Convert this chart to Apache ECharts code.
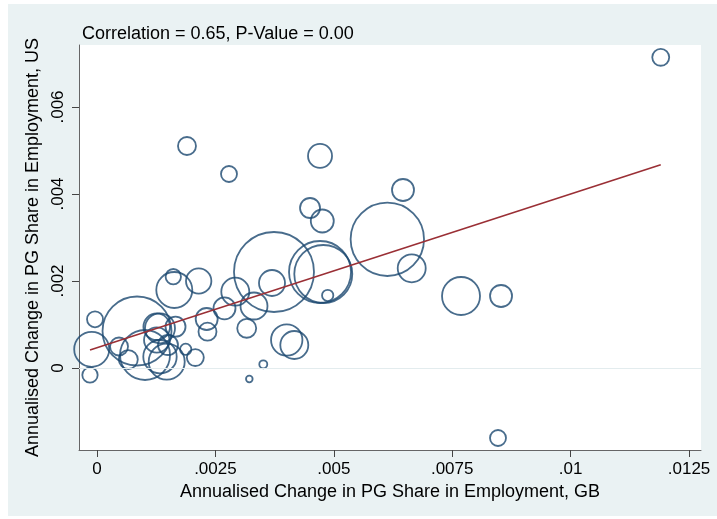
<!DOCTYPE html>
<html>
<head>
<meta charset="utf-8">
<script src="https://cdn.jsdelivr.net/npm/echarts@6/dist/echarts.min.js"></script>
<style>
html,body{margin:0;padding:0;background:#ffffff;width:717px;height:519px;overflow:hidden;}
#bg{position:absolute;left:8px;top:4px;width:709px;height:512px;background:#eaf2f3;}
#chart{position:absolute;left:0;top:0;width:717px;height:519px;}
</style>
</head>
<body>
<div id="bg"></div>
<div id="chart"></div>
<script>
// Annualised change in PG share in employment (GB on x, US on y), bubble weight
const gbChange = [
  0.011903, 0.001900, 0.002787, 0.004709, 0.004498, 0.004757, 0.006461, 0.006130,
  0.003737, 0.004709, 0.004778, 0.004871, 0.006645, 0.007686, 0.008531, 0.008467,
  0.003695, 0.002147, 0.001632, 0.001611, 0.002920, 0.003315, 0.002692, 0.002316,
  0.002333, 0.003161, 0.004006, 0.004166, 0.003511, 0.003216, 0.001658, 0.001873,
  0.002076, -0.000112, -0.000042, -0.000148, 0.000845, 0.000465, 0.000661, 0.001014,
  0.001261, 0.001330, 0.001261, 0.001330, 0.001472, 0.001499
];
const usChange = [
  0.007143, 0.005103, 0.004460, 0.004874, 0.003678, 0.003379, 0.004092, 0.002959,
  0.002207, 0.002207, 0.002161, 0.001667, 0.002292, 0.001655, 0.001655, -0.001609,
  0.001954, 0.002000, 0.001793, 0.002099, 0.001754, 0.001425, 0.001372, 0.001126,
  0.000834, 0.000913, 0.000644, 0.000529, 0.000085, -0.000253, 0.000949, 0.000430,
  0.000241, 0.000430, 0.001120, -0.000161, 0.000851, 0.000494, 0.000195, 0.000299,
  0.000949, 0.000913, 0.000644, 0.000260, 0.000145, 0.000529
];
const weights = [
  0.72, 0.81, 0.64, 1.44, 1.00, 1.32, 1.21, 13.47,
  16.00, 9.61, 8.41, 0.32, 1.96, 3.61, 1.21, 0.64,
  1.69, 1.61, 3.24, 0.59, 1.96, 1.82, 1.21, 1.21,
  0.81, 0.90, 2.46, 1.96, 0.16, 0.11, 1.00, 0.32,
  0.72, 3.06, 0.64, 0.59, 11.90, 0.81, 0.90, 6.25,
  1.77, 2.25, 1.61, 2.79, 3.24, 1.00
];
// fitted line
const fitIntercept = 0.000466;
const fitSlope = 0.3534;

const xTicks = [0, 0.0025, 0.005, 0.0075, 0.01, 0.0125];
const xTickLabels = ['0', '.0025', '.005', '.0075', '.01', '.0125'];
const yTicks = [0, 0.002, 0.004, 0.006];
const yTickLabels = ['0', '.002', '.004', '.006'];

const titleText = 'Correlation = 0.65, P-Value = 0.00';
const xTitle = 'Annualised Change in PG Share in Employment, GB';
const yTitle = 'Annualised Change in PG Share in Employment, US';

function labelFor(ticks, labels) {
  return function (v) {
    let best = 0, bd = Infinity;
    ticks.forEach((t, i) => { const d = Math.abs(t - v); if (d < bd) { bd = d; best = i; } });
    return labels[best];
  };
}

const points = gbChange.map((x, i) => [x, usChange[i], weights[i]]);
const xMinData = Math.min(...gbChange);
const xMaxData = Math.max(...gbChange);
const fitLine = [
  [xMinData, fitIntercept + fitSlope * xMinData],
  [xMaxData, fitIntercept + fitSlope * xMaxData]
];

const FONT = 'Liberation Sans, Arial, sans-serif';
const chart = echarts.init(document.getElementById('chart'), null, { renderer: 'canvas' });
chart.setOption({
  backgroundColor: 'transparent',
  animation: false,
  title: {
    text: titleText,
    left: 77, top: 20,
    textStyle: { fontFamily: FONT, fontSize: 18, fontWeight: 'normal', color: '#000' }
  },
  grid: {
    left: 79, right: 16, top: 45, bottom: 69,
    show: true, backgroundColor: '#ffffff', borderWidth: 0
  },
  xAxis: {
    type: 'value',
    min: -0.00038, max: 0.012753,
    name: xTitle, nameLocation: 'middle', nameGap: 27,
    nameTextStyle: { fontFamily: FONT, fontSize: 18, color: '#000' },
    axisLine: { show: true, onZero: false, lineStyle: { color: '#666', width: 1 } },
    axisTick: { show: true, length: 7, customValues: xTicks, lineStyle: { color: '#444' } },
    axisLabel: {
      customValues: xTicks, formatter: labelFor(xTicks, xTickLabels),
      margin: 11, fontFamily: FONT, fontSize: 17, color: '#000'
    },
    splitLine: { show: false }
  },
  yAxis: {
    type: 'value',
    min: -0.001885, max: 0.007425,
    name: yTitle, nameLocation: 'middle', nameGap: 31,
    nameTextStyle: { fontFamily: FONT, fontSize: 18, color: '#000' },
    axisLine: { show: true, onZero: false, lineStyle: { color: '#666', width: 1 } },
    axisTick: { show: true, length: 7, customValues: yTicks, lineStyle: { color: '#444' } },
    axisLabel: {
      customValues: yTicks, formatter: labelFor(yTicks, yTickLabels),
      rotate: 90, margin: 12, fontFamily: FONT, fontSize: 17, color: '#000'
    },
    splitLine: { show: false }
  },
  series: [
    {
      type: 'line', data: [], z: 1, silent: true,
      markLine: {
        silent: true, symbol: ['none', 'none'], label: { show: false },
        lineStyle: { color: '#e3ecee', width: 1.2, type: 'solid' },
        data: yTicks.map(v => ({ yAxis: v }))
      }
    },
    {
      type: 'scatter', z: 3,
      data: points,
      symbol: 'circle',
      symbolSize: v => 20 * Math.sqrt(v[2]),
      itemStyle: { color: 'rgba(0,0,0,0)', borderColor: '#1a476f', borderWidth: 1.8 }
    },
    {
      type: 'line', z: 4, data: fitLine, symbol: 'none',
      lineStyle: { color: '#9a2f35', width: 1.6 }
    }
  ]
});
</script>
</body>
</html>
